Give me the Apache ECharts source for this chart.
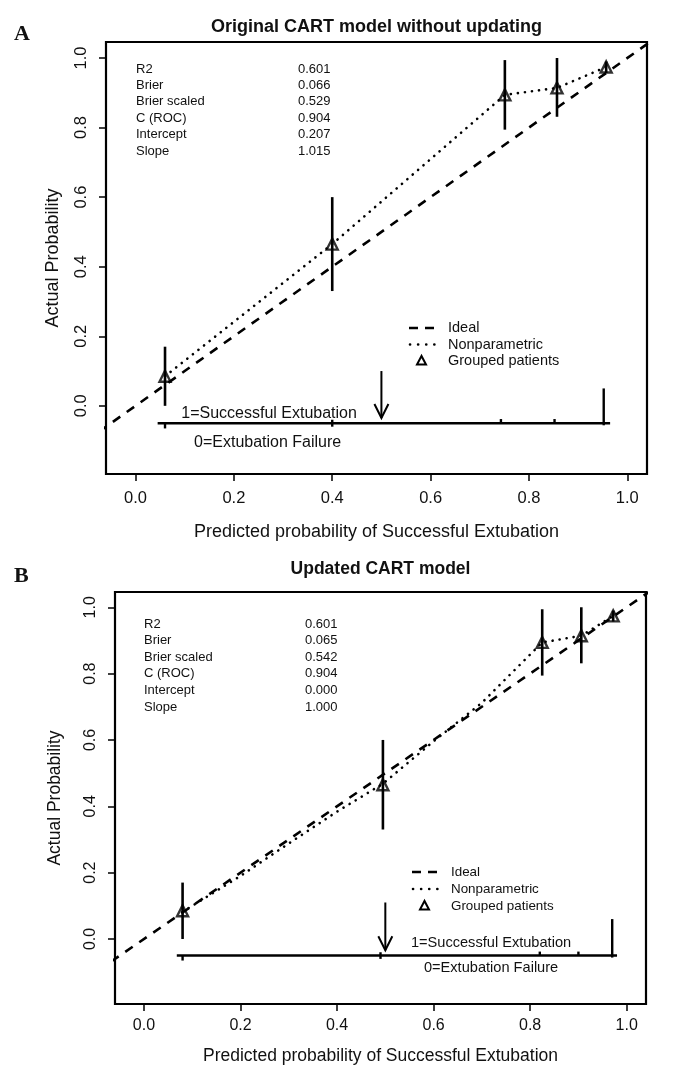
<!DOCTYPE html>
<html>
<head>
<meta charset="utf-8">
<script src="https://cdn.jsdelivr.net/npm/echarts@6/dist/echarts.min.js"></script>
<style>
html,body{margin:0;padding:0;background:#fff;}
#chart{width:688px;height:1066px;}
</style>
</head>
<body>
<div id="chart"></div>
<script>
// ---------------- data ----------------
const tickValues = [0, 0.2, 0.4, 0.6, 0.8, 1.0];
const statNames = ['R2', 'Brier', 'Brier scaled', 'C (ROC)', 'Intercept', 'Slope'];
const statsA = ['0.601', '0.066', '0.529', '0.904', '0.207', '1.015'];
const statsB = ['0.601', '0.065', '0.542', '0.904', '0.000', '1.000'];

// grouped patients (same observed proportions in both panels)
const groupY  = [0.085, 0.465, 0.894, 0.914, 0.974];
const groupLo = [0.000, 0.330, 0.794, 0.831, 0.957];
const groupHi = [0.170, 0.600, 0.994, 1.000, 0.990];
const groupXA = [0.060, 0.400, 0.751, 0.857, 0.957];
const groupXB = [0.080, 0.495, 0.825, 0.906, 0.972];

// nonparametric (dotted) calibration curves
const npXA = [0.060, 0.400, 0.751, 0.857, 0.957];
const npYA = [0.085, 0.465, 0.894, 0.914, 0.974];
const npXB = [0.080, 0.200, 0.300, 0.400, 0.495, 0.600, 0.700, 0.825, 0.906, 0.972];
const npYB = [0.082, 0.190, 0.288, 0.384, 0.468, 0.596, 0.712, 0.894, 0.914, 0.974];

// ideal line endpoints
const idealX = [-0.3, 1.2];

// rug / spike histogram (1 = up, 0 = down)
const rugBase = -0.05;
const rugRangeA = [0.045, 0.965];
const rugRangeB = [0.068, 0.980];
const spikeXA = [0.060, 0.400, 0.743, 0.852, 0.952];
const spikeUpA = [0.000, 0.010, 0.012, 0.012, 0.100];
const spikeDnA = [0.015, 0.010, 0.000, 0.000, 0.006];
const spikeXB = [0.080, 0.490, 0.820, 0.900, 0.970];
const spikeUpB = [0.000, 0.010, 0.012, 0.012, 0.110];
const spikeDnB = [0.015, 0.010, 0.000, 0.000, 0.006];

// cutoff arrow
const arrowA = [0.50, 0.100, -0.035];
const arrowB = [0.50, 0.110, -0.034];

// in-plot rug labels [x, y]
const rugLblA = {one: [0.093, -0.023], zero: [0.119, -0.105]};
const rugLblB = {one: [0.553, -0.013], zero: [0.580, -0.087]};

// ---------------- chart ----------------
const FONT = '"Liberation Sans", Arial, sans-serif';
const chart = echarts.init(document.getElementById('chart'), null, {renderer: 'canvas'});

const gridA = {left: 106, top: 42, width: 541, height: 432};
const gridB = {left: 115, top: 592, width: 531, height: 421};

function xAxisDef(gi, nameGap, labelMargin, fs, nfs) {
  return {
    type: 'value', gridIndex: gi, min: -0.06, max: 1.04,
    position: 'bottom',
    axisLine: {show: false, onZero: false},
    splitLine: {show: false},
    axisTick: {show: true, inside: false, length: 7, customValues: tickValues,
      lineStyle: {color: '#000', width: 1.5}},
    axisLabel: {show: true, customValues: tickValues, margin: labelMargin,
      color: '#111', fontSize: fs, fontFamily: FONT,
      formatter: v => v.toFixed(1)},
    name: 'Predicted probability of Successful Extubation',
    nameLocation: 'middle', nameGap: nameGap,
    nameTextStyle: {color: '#111', fontSize: nfs, fontFamily: FONT}
  };
}
function yAxisDef(gi, nameGap, labelMargin, fs, nfs) {
  return {
    type: 'value', gridIndex: gi, min: -0.196, max: 1.046,
    position: 'left',
    axisLine: {show: false, onZero: false},
    splitLine: {show: false},
    axisTick: {show: true, inside: false, length: 7, customValues: tickValues,
      lineStyle: {color: '#000', width: 1.5}},
    axisLabel: {show: true, customValues: tickValues, margin: labelMargin, rotate: 90,
      color: '#111', fontSize: fs, fontFamily: FONT,
      formatter: v => v.toFixed(1)},
    name: 'Actual Probability',
    nameLocation: 'middle', nameGap: nameGap, nameRotate: 90,
    nameTextStyle: {color: '#111', fontSize: nfs, fontFamily: FONT}
  };
}

function errorBarRender(params, api) {
  const x = api.value(0), lo = api.value(1), hi = api.value(2);
  const p1 = api.coord([x, lo]), p2 = api.coord([x, hi]);
  return {type: 'line', shape: {x1: p1[0], y1: p1[1], x2: p2[0], y2: p2[1]},
    style: {stroke: '#000', lineWidth: 2.6}};
}
function spikeRender(params, api) {
  const x = api.value(0), base = api.value(1), up = api.value(2), dn = api.value(3);
  const p1 = api.coord([x, base - dn]), p2 = api.coord([x, base + up]);
  return {type: 'line', shape: {x1: p1[0], y1: p1[1], x2: p2[0], y2: p2[1]},
    style: {stroke: '#000', lineWidth: 2.4}};
}
function arrowRender(params, api) {
  const x = api.value(0), top = api.value(1), tip = api.value(2);
  const a = api.coord([x, top]), b = api.coord([x, tip]);
  return {type: 'group', children: [
    {type: 'line', shape: {x1: a[0], y1: a[1], x2: b[0], y2: b[1]}, style: {stroke: '#000', lineWidth: 2}},
    {type: 'polyline', shape: {points: [[b[0] - 7, b[1] - 14], [b[0], b[1]], [b[0] + 7, b[1] - 14]]},
      style: {stroke: '#000', lineWidth: 2, fill: null}}
  ]};
}

function panelSeries(gi, groupX, npX, npY, rugRange, spikeX, spikeUp, spikeDn, arrow) {
  return [
    {type: 'line', xAxisIndex: gi, yAxisIndex: gi, clip: true, symbol: 'none', silent: true,
      data: idealX.map(v => [v, v]),
      lineStyle: {color: '#000', width: 2.6, type: [9, 8]}, z: 2},
    {type: 'line', xAxisIndex: gi, yAxisIndex: gi, clip: true, symbol: 'none', silent: true,
      data: npX.map((v, i) => [v, npY[i]]),
      lineStyle: {color: '#000', width: 2.6, type: [0.1, 7], cap: 'round'}, z: 2},
    {type: 'custom', xAxisIndex: gi, yAxisIndex: gi, renderItem: errorBarRender,
      data: groupX.map((v, i) => [v, groupLo[i], groupHi[i]]), z: 3},
    {type: 'scatter', xAxisIndex: gi, yAxisIndex: gi, symbol: 'triangle', symbolSize: 11,
      data: groupX.map((v, i) => [v, groupY[i]]),
      itemStyle: {color: 'rgba(255,255,255,0)', borderColor: '#000', borderWidth: 2.4}, z: 4},
    {type: 'line', xAxisIndex: gi, yAxisIndex: gi, symbol: 'none', silent: true,
      data: rugRange.map(v => [v, rugBase]),
      lineStyle: {color: '#000', width: 2.6, type: 'solid'}, z: 3},
    {type: 'custom', xAxisIndex: gi, yAxisIndex: gi, renderItem: spikeRender,
      data: spikeX.map((v, i) => [v, rugBase, spikeUp[i], spikeDn[i]]), z: 3},
    {type: 'custom', xAxisIndex: gi, yAxisIndex: gi, renderItem: arrowRender,
      data: [arrow], z: 3}
  ];
}

const option = {
  animation: false,
  backgroundColor: '#fff',
  grid: [
    Object.assign({show: true, borderColor: '#000', borderWidth: 2.2, backgroundColor: 'transparent'}, gridA),
    Object.assign({show: true, borderColor: '#000', borderWidth: 2.2, backgroundColor: 'transparent'}, gridB)
  ],
  xAxis: [xAxisDef(0, 49, 16, 16.5, 18), xAxisDef(1, 43, 14, 16, 17.5)],
  yAxis: [yAxisDef(0, 44, 16, 16.5, 18), yAxisDef(1, 51, 16, 16, 17.5)],
  series: [
    ...panelSeries(0, groupXA, npXA, npYA, rugRangeA, spikeXA, spikeUpA, spikeDnA, arrowA),
    ...panelSeries(1, groupXB, npXB, npYB, rugRangeB, spikeXB, spikeUpB, spikeDnB, arrowB)
  ]
};
chart.setOption(option);

// ---------------- annotations ----------------
const g = [];
function txt(x, y, s, opt) {
  g.push(Object.assign({type: 'text', x: x, y: y,
    style: Object.assign({text: s, fill: '#111', font: '13px ' + FONT, textVerticalAlign: 'middle'}, opt || {})}));
}
// panel letters and titles
txt(14, 34, 'A', {font: 'bold 22px "Liberation Serif", "DejaVu Serif", serif'});
txt(14, 576, 'B', {font: 'bold 22px "Liberation Serif", "DejaVu Serif", serif'});
txt(gridA.left + gridA.width / 2, 27, 'Original CART model without updating', {font: 'bold 18px ' + FONT, textAlign: 'center'});
txt(gridB.left + gridB.width / 2, 569, 'Updated CART model', {font: 'bold 17.5px ' + FONT, textAlign: 'center'});

// stats tables
statNames.forEach((n, i) => {
  txt(136, 69 + i * 16.4, n, {font: '13px ' + FONT});
  txt(298, 69 + i * 16.4, statsA[i], {font: '13px ' + FONT});
  txt(144, 624 + i * 16.6, n, {font: '13px ' + FONT});
  txt(305, 624 + i * 16.6, statsB[i], {font: '13px ' + FONT});
});

// legends
function legend(x0, y0, dy, fontSize) {
  g.push({type: 'line', shape: {x1: x0, y1: y0, x2: x0 + 25, y2: y0},
    style: {stroke: '#000', lineWidth: 2.6, lineDash: [9, 7]}});
  g.push({type: 'line', shape: {x1: x0 + 1, y1: y0 + dy, x2: x0 + 26, y2: y0 + dy},
    style: {stroke: '#000', lineWidth: 2.6, lineDash: [0.1, 8], lineCap: 'round'}});
  g.push({type: 'polygon', shape: {points: [[x0 + 12.5, y0 + 2 * dy - 5], [x0 + 8, y0 + 2 * dy + 3.5], [x0 + 17, y0 + 2 * dy + 3.5]]},
    style: {stroke: '#000', lineWidth: 2, fill: null}});
  txt(x0 + 39, y0, 'Ideal', {font: fontSize + 'px ' + FONT});
  txt(x0 + 39, y0 + dy, 'Nonparametric', {font: fontSize + 'px ' + FONT});
  txt(x0 + 39, y0 + 2 * dy, 'Grouped patients', {font: fontSize + 'px ' + FONT});
}
legend(409, 328, 16.5, 14.5);
legend(412, 872, 17, 13.4);

// rug labels positioned through the axes
function rugLabels(gi, lbl, fs) {
  const p1 = chart.convertToPixel({xAxisIndex: gi, yAxisIndex: gi}, lbl.one);
  const p0 = chart.convertToPixel({xAxisIndex: gi, yAxisIndex: gi}, lbl.zero);
  txt(p1[0], p1[1], '1=Successful Extubation', {font: fs + 'px ' + FONT});
  txt(p0[0], p0[1], '0=Extubation Failure', {font: fs + 'px ' + FONT});
}
rugLabels(0, rugLblA, 16);
rugLabels(1, rugLblB, 14.6);

chart.setOption({graphic: {elements: g}});
</script>
</body>
</html>
